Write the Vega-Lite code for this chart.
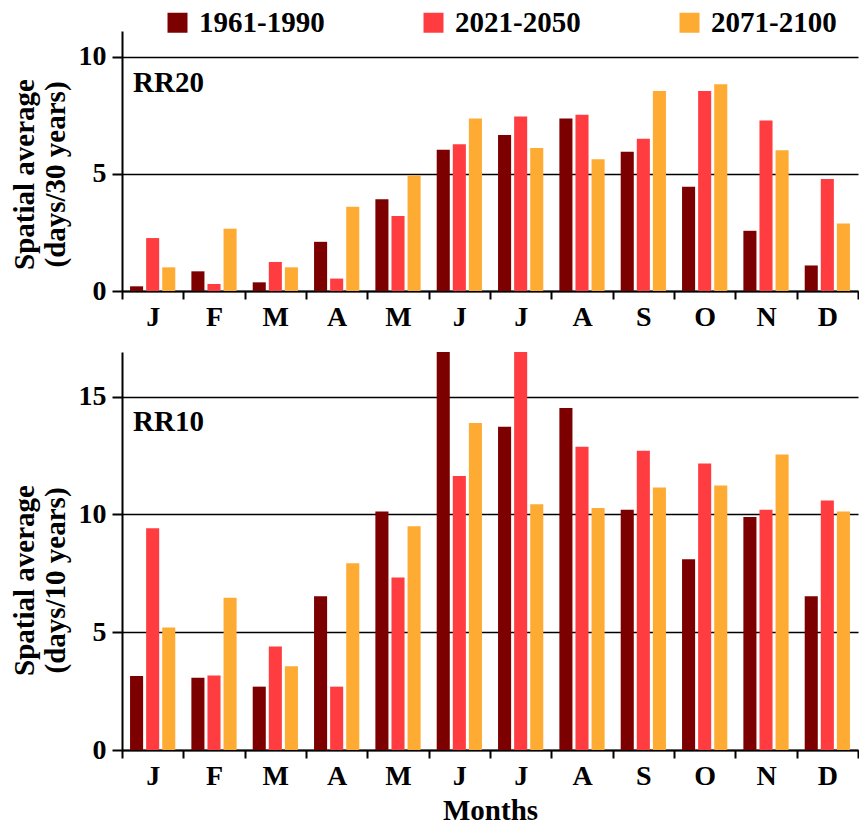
{
  "$schema": "https://vega.github.io/schema/vega-lite/v6.json",
  "padding": {"left": 10, "top": 8, "right": 0, "bottom": 0},
  "background": "white",
  "datasets": {
    "rr20": [
      {"m":"Jan","p":"1961-1990","v":0.2},{"m":"Jan","p":"2021-2050","v":2.26},{"m":"Jan","p":"2071-2100","v":1.01},
      {"m":"Feb","p":"1961-1990","v":0.84},{"m":"Feb","p":"2021-2050","v":0.3},{"m":"Feb","p":"2071-2100","v":2.66},
      {"m":"Mar","p":"1961-1990","v":0.37},{"m":"Mar","p":"2021-2050","v":1.24},{"m":"Mar","p":"2071-2100","v":1.01},
      {"m":"Apr","p":"1961-1990","v":2.1},{"m":"Apr","p":"2021-2050","v":0.53},{"m":"Apr","p":"2071-2100","v":3.6},
      {"m":"May","p":"1961-1990","v":3.92},{"m":"May","p":"2021-2050","v":3.2},{"m":"May","p":"2071-2100","v":4.93},
      {"m":"Jun","p":"1961-1990","v":6.03},{"m":"Jun","p":"2021-2050","v":6.27},{"m":"Jun","p":"2071-2100","v":7.36},
      {"m":"Jul","p":"1961-1990","v":6.66},{"m":"Jul","p":"2021-2050","v":7.45},{"m":"Jul","p":"2071-2100","v":6.1},
      {"m":"Aug","p":"1961-1990","v":7.36},{"m":"Aug","p":"2021-2050","v":7.52},{"m":"Aug","p":"2071-2100","v":5.63},
      {"m":"Sep","p":"1961-1990","v":5.94},{"m":"Sep","p":"2021-2050","v":6.5},{"m":"Sep","p":"2071-2100","v":8.54},
      {"m":"Oct","p":"1961-1990","v":4.45},{"m":"Oct","p":"2021-2050","v":8.54},{"m":"Oct","p":"2071-2100","v":8.83},
      {"m":"Nov","p":"1961-1990","v":2.57},{"m":"Nov","p":"2021-2050","v":7.28},{"m":"Nov","p":"2071-2100","v":6.01},
      {"m":"Dec","p":"1961-1990","v":1.09},{"m":"Dec","p":"2021-2050","v":4.78},{"m":"Dec","p":"2071-2100","v":2.88}
    ],
    "rr10": [
      {"m":"Jan","p":"1961-1990","v":3.14},{"m":"Jan","p":"2021-2050","v":9.42},{"m":"Jan","p":"2071-2100","v":5.2},
      {"m":"Feb","p":"1961-1990","v":3.07},{"m":"Feb","p":"2021-2050","v":3.16},{"m":"Feb","p":"2071-2100","v":6.46},
      {"m":"Mar","p":"1961-1990","v":2.69},{"m":"Mar","p":"2021-2050","v":4.4},{"m":"Mar","p":"2071-2100","v":3.56},
      {"m":"Apr","p":"1961-1990","v":6.53},{"m":"Apr","p":"2021-2050","v":2.69},{"m":"Apr","p":"2071-2100","v":7.93},
      {"m":"May","p":"1961-1990","v":10.13},{"m":"May","p":"2021-2050","v":7.32},{"m":"May","p":"2071-2100","v":9.5},
      {"m":"Jun","p":"1961-1990","v":17.3},{"m":"Jun","p":"2021-2050","v":11.63},{"m":"Jun","p":"2071-2100","v":13.88},
      {"m":"Jul","p":"1961-1990","v":13.73},{"m":"Jul","p":"2021-2050","v":17.3},{"m":"Jul","p":"2071-2100","v":10.44},
      {"m":"Aug","p":"1961-1990","v":14.52},{"m":"Aug","p":"2021-2050","v":12.88},{"m":"Aug","p":"2071-2100","v":10.28},
      {"m":"Sep","p":"1961-1990","v":10.2},{"m":"Sep","p":"2021-2050","v":12.71},{"m":"Sep","p":"2071-2100","v":11.15},
      {"m":"Oct","p":"1961-1990","v":8.1},{"m":"Oct","p":"2021-2050","v":12.17},{"m":"Oct","p":"2071-2100","v":11.23},
      {"m":"Nov","p":"1961-1990","v":9.89},{"m":"Nov","p":"2021-2050","v":10.2},{"m":"Nov","p":"2071-2100","v":12.55},
      {"m":"Dec","p":"1961-1990","v":6.53},{"m":"Dec","p":"2021-2050","v":10.59},{"m":"Dec","p":"2071-2100","v":10.13}
    ],
    "lab20": [{"m":"Jan","v":8.5,"t":"RR20"}],
    "lab10": [{"m":"Jan","v":13.55,"t":"RR10"}]
  },
  "bounds": "flush",
  "spacing": 61,
  "vconcat": [
    {
      "width": 736,
      "height": 260,
      "layer": [
        {
          "data": {"name": "rr20"},
          "mark": {"type": "bar", "clip": true},
          "encoding": {
            "x": {"field": "m", "type": "nominal", "sort": ["Jan","Feb","Mar","Apr","May","Jun","Jul","Aug","Sep","Oct","Nov","Dec"],
                  "scale": {"paddingInner": 0, "paddingOuter": 0},
                  "axis": {"title": null, "labelExpr": "substring(datum.label,0,1)", "labelAngle": 0}},
            "xOffset": {"field": "p", "type": "nominal", "scale": {"paddingInner": 0.1875, "paddingOuter": 0.5}},
            "y": {"field": "v", "type": "quantitative", "scale": {"domain": [0, 11.1], "nice": false, "zero": true},
                  "axis": {"values": [0, 5, 10], "title": ["Spatial average", "(days/30 years)"], "titleY": 143}},
            "color": {"field": "p", "type": "nominal",
                      "scale": {"domain": ["1961-1990","2021-2050","2071-2100"], "range": ["#7d0000","#ff3d40","#fdab33"]},
                      "legend": {"orient": "none", "legendX": 41, "legendY": -23, "direction": "horizontal", "title": null}}
          }
        },
        {
          "data": {"name": "lab20"},
          "mark": {"type": "text", "align": "left", "baseline": "alphabetic", "dx": 11, "font": "Liberation Serif", "fontWeight": "bold", "fontSize": 29, "color": "black"},
          "encoding": {
            "x": {"field": "m", "type": "nominal", "bandPosition": 0, "sort": ["Jan","Feb","Mar","Apr","May","Jun","Jul","Aug","Sep","Oct","Nov","Dec"]},
            "y": {"field": "v", "type": "quantitative"},
            "text": {"field": "t"}
          }
        }
      ]
    },
    {
      "width": 736,
      "height": 398,
      "layer": [
        {
          "data": {"name": "rr10"},
          "mark": {"type": "bar", "clip": true},
          "encoding": {
            "x": {"field": "m", "type": "nominal", "sort": ["Jan","Feb","Mar","Apr","May","Jun","Jul","Aug","Sep","Oct","Nov","Dec"],
                  "scale": {"paddingInner": 0, "paddingOuter": 0},
                  "axis": {"title": "Months", "labelExpr": "substring(datum.label,0,1)", "labelAngle": 0, "titlePadding": 6}},
            "xOffset": {"field": "p", "type": "nominal", "scale": {"paddingInner": 0.1875, "paddingOuter": 0.5}},
            "y": {"field": "v", "type": "quantitative", "scale": {"domain": [0, 16.9], "nice": false, "zero": true},
                  "axis": {"values": [0, 5, 10, 15], "title": ["Spatial average", "(days/10 years)"], "titleY": 228}},
            "color": {"field": "p", "type": "nominal",
                      "scale": {"domain": ["1961-1990","2021-2050","2071-2100"], "range": ["#7d0000","#ff3d40","#fdab33"]},
                      "legend": {"orient": "none", "legendX": 41, "legendY": -23, "direction": "horizontal", "title": null}}
          }
        },
        {
          "data": {"name": "lab10"},
          "mark": {"type": "text", "align": "left", "baseline": "alphabetic", "dx": 11, "font": "Liberation Serif", "fontWeight": "bold", "fontSize": 29, "color": "black"},
          "encoding": {
            "x": {"field": "m", "type": "nominal", "bandPosition": 0, "sort": ["Jan","Feb","Mar","Apr","May","Jun","Jul","Aug","Sep","Oct","Nov","Dec"]},
            "y": {"field": "v", "type": "quantitative"},
            "text": {"field": "t"}
          }
        }
      ]
    }
  ],
  "config": {
    "font": "Liberation Serif",
    "view": {"stroke": null},
    "axis": {
      "labelFont": "Liberation Serif", "labelFontWeight": "bold", "labelFontSize": 28, "labelColor": "black",
      "titleFont": "Liberation Serif", "titleFontWeight": "bold", "titleFontSize": 29, "titleColor": "black",
      "domainColor": "black", "domainWidth": 2, "tickColor": "black", "tickWidth": 2
    },
    "axisX": {"tickBand": "extent", "tickSize": 8, "labelPadding": 4, "grid": false},
    "axisY": {"grid": true, "gridColor": "black", "gridWidth": 1.5, "gridOpacity": 1, "tickSize": 10, "labelPadding": 6, "titlePadding": 8, "titleLineHeight": 31},
    "legend": {
      "symbolType": "square", "symbolSize": 400, "symbolStrokeWidth": 0, "symbolOpacity": 1,
      "labelFont": "Liberation Serif", "labelFontWeight": "bold", "labelFontSize": 29, "labelColor": "black",
      "labelOffset": 7, "columnPadding": 94
    }
  }
}
